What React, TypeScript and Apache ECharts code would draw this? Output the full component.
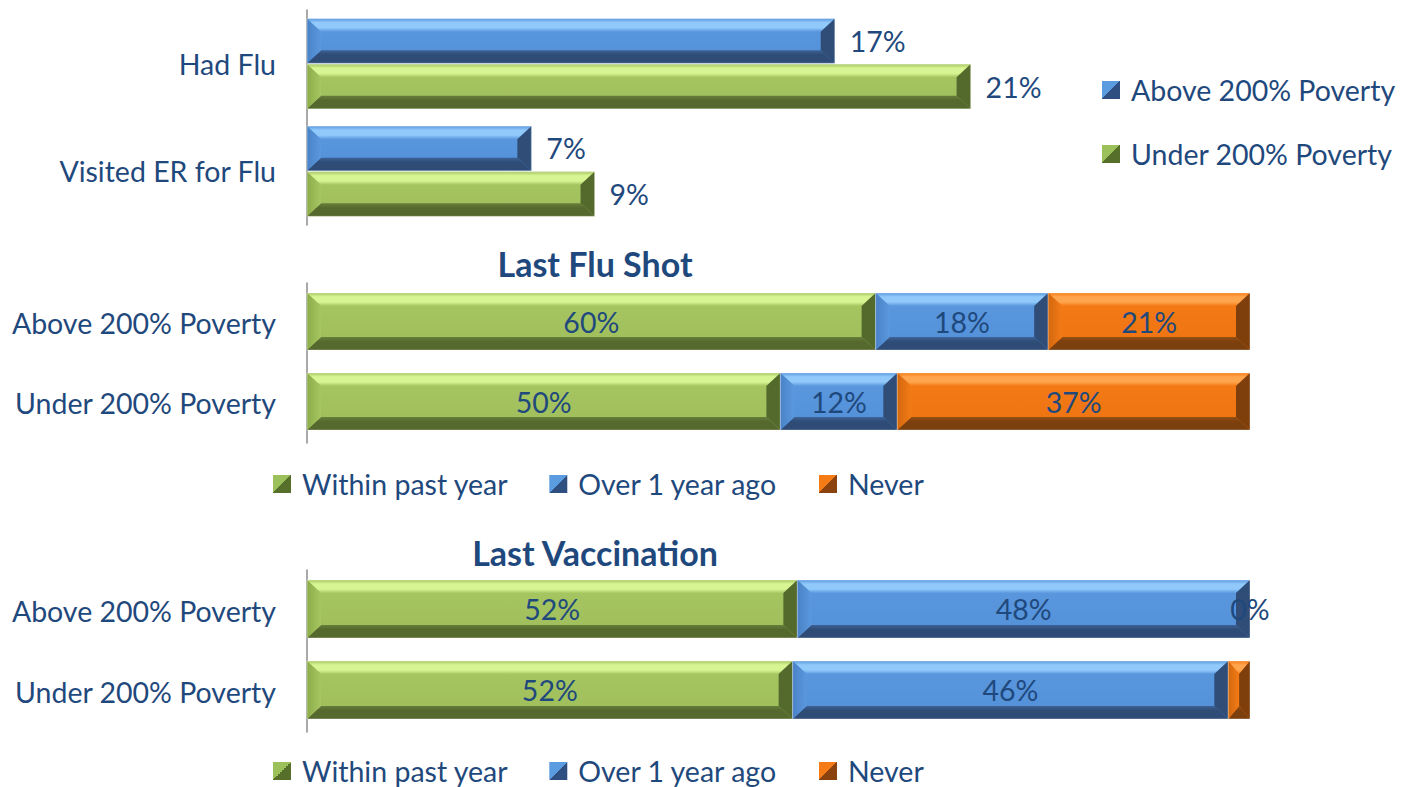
import React, { useEffect, useRef } from "react";
import * as echarts from "echarts";

// ---------- data ----------
const fluCategories = ["Had Flu", "Visited ER for Flu"];
const fluSeriesNames = ["Above 200% Poverty", "Under 200% Poverty"];
const fluAbove = [16.7, 7.1];
const fluUnder = [21.0, 9.1];

const groupCategories = ["Above 200% Poverty", "Under 200% Poverty"];
const stackSeriesNames = ["Within past year", "Over 1 year ago", "Never"];

const shotWithin = [60.3, 50.2];
const shotOver = [18.3, 12.4];
const shotNever = [21.4, 37.4];

const vaccWithin = [52.0, 51.5];
const vaccOver = [48.0, 46.2];
const vaccNever = [0.0, 2.3];
const vaccNeverLabelShown = [true, false];

const panelTitles = ["Last Flu Shot", "Last Vaccination"];

// ---------- styles ----------
const TEXT = "#1F497D";
const FONT = "Lato, 'Noto Sans', sans-serif";
const FS = 28.5;

type Pal = { face: string; faceDark: string; light: string; left: string; right: string; bottom: string; bottomLight: string; lg: string; dk: string };
const BLUE: Pal = { face: "#5B98DE", faceDark: "#5290D8", light: "#90C9FA", left: "#4A82C6", right: "#2F4D77", bottom: "#2E4C76", bottomLight: "#3D6296", lg: "#5B9BE0", dk: "#2E4F80" };
const GREEN: Pal = { face: "#A7C763", faceDark: "#9FBE5B", light: "#D8F594", left: "#8CAC4B", right: "#54692C", bottom: "#55692E", bottomLight: "#667D3A", lg: "#9CC05A", dk: "#56702C" };
const ORANGE: Pal = { face: "#F47B16", faceDark: "#EE7312", light: "#FFA54E", left: "#D2680F", right: "#7E3F0C", bottom: "#7C3F0E", bottomLight: "#955012", lg: "#F47B16", dk: "#8A430E" };
const STACK_PALS = [GREEN, BLUE, ORANGE];
const FLU_PALS = [BLUE, GREEN];

function bevelBar(x0: number, y0: number, x1: number, y1: number, pal: Pal): any[] {
  const w = x1 - x0;
  const h = y1 - y0;
  const out: any[] = [];
  if (w <= 0.01) return out;
  const bx = Math.min(14, w / 2);
  const by = Math.min(13, h / 2);
  out.push({
    type: "rect",
    shape: { x: x0, y: y0, width: w, height: h },
    style: {
      fill: new echarts.graphic.LinearGradient(0, 0, 0, 1, [
        { offset: 0, color: pal.face },
        { offset: 1, color: pal.faceDark },
      ]),
    },
  });
  out.push({
    type: "polygon",
    shape: { points: [[x0, y0], [x1, y0], [x1 - bx, y0 + by], [x0 + bx, y0 + by]] },
    style: {
      fill: new echarts.graphic.LinearGradient(0, 0, 0, 1, [
        { offset: 0, color: pal.face },
        { offset: 0.3, color: pal.light },
        { offset: 0.7, color: pal.light },
        { offset: 1, color: pal.face },
      ]),
    },
  });
  out.push({
    type: "polygon",
    shape: { points: [[x0, y1], [x0 + bx, y1 - by], [x1 - bx, y1 - by], [x1, y1]] },
    style: {
      fill: new echarts.graphic.LinearGradient(0, 0, 0, 1, [
        { offset: 0, color: pal.bottomLight },
        { offset: 0.35, color: pal.bottom },
        { offset: 1, color: pal.bottom },
      ]),
    },
  });
  out.push({
    type: "polygon",
    shape: { points: [[x0, y0], [x0 + bx, y0 + by], [x0 + bx, y1 - by], [x0, y1]] },
    style: {
      fill: new echarts.graphic.LinearGradient(0, 0, 1, 0, [
        { offset: 0, color: pal.left },
        { offset: 1, color: pal.face },
      ]),
    },
  });
  out.push({
    type: "polygon",
    shape: { points: [[x1, y0], [x1, y1], [x1 - bx, y1 - by], [x1 - bx, y0 + by]] },
    style: { fill: pal.right },
  });
  out.push({
    type: "rect",
    shape: { x: x0, y: y0, width: w, height: h },
    style: { fill: "none", stroke: "rgba(255,255,255,0.35)", lineWidth: 1 },
  });
  return out;
}

function legendIcon(pal: Pal) {
  return new echarts.graphic.LinearGradient(0, 0, 1, 1, [
    { offset: 0, color: pal.lg },
    { offset: 0.5, color: pal.lg },
    { offset: 0.5, color: pal.dk },
    { offset: 1, color: pal.dk },
  ]);
}

function labelText(x: number, y: number, text: string, align: string) {
  return {
    type: "text",
    x,
    y,
    style: { text, fill: TEXT, fontSize: FS, fontFamily: FONT, align, verticalAlign: "middle" },
  };
}

function fluSeries(idx: number, values: number[]) {
  const pal = FLU_PALS[idx];
  return {
    type: "custom",
    name: fluSeriesNames[idx],
    xAxisIndex: 0,
    yAxisIndex: 0,
    clip: false,
    itemStyle: { color: pal.face },
    encode: { x: 0, y: 1 },
    data: values.map((v, k) => [v, k]),
    renderItem: (_params: any, api: any) => {
      const v = api.value(0);
      const c = api.value(1);
      const p0 = api.coord([0, c]);
      const p1 = api.coord([v, c]);
      const band = api.size([0, 1])[1];
      const h = band * 0.415;
      const y0 = idx === 0 ? p0[1] - h - 0.5 : p0[1] + 0.5;
      const children = bevelBar(p0[0], y0, p1[0], y0 + h, pal);
      children.push(labelText(p1[0] + 15, y0 + h / 2, Math.round(v) + "%", "left"));
      return { type: "group", children };
    },
  };
}

function stackSeries(gridIdx: number, idx: number, parts: number[][], shown?: boolean[]) {
  const pal = STACK_PALS[idx];
  const data = parts[idx].map((v, k) => {
    let start = 0;
    for (let j = 0; j < idx; j++) start += parts[j][k];
    return [start, start + v, k, v, shown ? (shown[k] ? 1 : 0) : 1];
  });
  return {
    type: "custom",
    name: stackSeriesNames[idx],
    xAxisIndex: gridIdx,
    yAxisIndex: gridIdx,
    clip: false,
    itemStyle: { color: pal.face },
    encode: { x: [0, 1], y: 2 },
    data,
    renderItem: (_params: any, api: any) => {
      const s = api.value(0);
      const e = api.value(1);
      const c = api.value(2);
      const v = api.value(3);
      const show = api.value(4);
      const p0 = api.coord([s, c]);
      const p1 = api.coord([e, c]);
      const band = api.size([0, 1])[1];
      const h = band * 0.715;
      const y0 = p0[1] - h / 2 - 1.5;
      const children = bevelBar(p0[0], y0, p1[0], y0 + h, pal);
      if (show) children.push(labelText((p0[0] + p1[0]) / 2, y0 + h / 2, Math.round(v) + "%", "center"));
      return { type: "group", children };
    },
  };
}

function yAxisCfg(gridIndex: number, data: string[]) {
  return {
    type: "category",
    gridIndex,
    data,
    inverse: true,
    axisLine: { lineStyle: { color: "#8C8C8C", width: 1.5 } },
    axisTick: { length: 9, lineStyle: { color: "#8C8C8C", width: 1.5 } },
    axisLabel: { margin: 31, fontSize: FS, fontFamily: FONT, color: TEXT },
    splitLine: { show: false },
  };
}

function xAxisCfg(gridIndex: number, max: number) {
  return { type: "value", gridIndex, min: 0, max, show: false, splitLine: { show: false } };
}

const legendText = { fontSize: FS, fontFamily: FONT, color: TEXT, lineHeight: 30, padding: [0, 0, 0, 6] };

export default function App() {
  const ref = useRef<HTMLDivElement>(null);
  useEffect(() => {
    if (!ref.current) return;
    const chart = echarts.init(ref.current, undefined, { renderer: "svg" });
    const shotParts = [shotWithin, shotOver, shotNever];
    const vaccParts = [vaccWithin, vaccOver, vaccNever];
    const titleStyle = { fontSize: 34, fontWeight: "bold", fontFamily: FONT, color: TEXT };
    const option: any = {
      animation: false,
      backgroundColor: "#FFFFFF",
      title: [
        { text: panelTitles[0], left: 595, top: 246, textAlign: "center", padding: 0, textStyle: titleStyle },
        { text: panelTitles[1], left: 595, top: 535, textAlign: "center", padding: 0, textStyle: titleStyle },
      ],
      legend: [
        {
          orient: "vertical",
          left: 1102,
          top: 75,
          padding: 0,
          itemWidth: 18,
          itemHeight: 18,
          itemGap: 34,
          selectedMode: false,
          textStyle: legendText,
          data: fluSeriesNames.map((n, i) => ({ name: n, icon: "rect", itemStyle: { color: legendIcon(FLU_PALS[i]) } })),
        },
        {
          left: 273,
          top: 469,
          padding: 0,
          itemWidth: 18,
          itemHeight: 18,
          itemGap: 41,
          selectedMode: false,
          textStyle: legendText,
          data: stackSeriesNames.map((n, i) => ({ name: n, icon: "rect", itemStyle: { color: legendIcon(STACK_PALS[i]) } })),
        },
        {
          left: 273,
          top: 756,
          padding: 0,
          itemWidth: 18,
          itemHeight: 18,
          itemGap: 41,
          selectedMode: false,
          textStyle: legendText,
          data: stackSeriesNames.map((n, i) => ({ name: n, icon: "rect", itemStyle: { color: legendIcon(STACK_PALS[i]) } })),
        },
      ],
      grid: [
        { left: 307, top: 10, width: 790, height: 215 },
        { left: 307, top: 283, width: 943, height: 160 },
        { left: 307, top: 570, width: 943, height: 162 },
      ],
      xAxis: [xAxisCfg(0, 25), xAxisCfg(1, 100), xAxisCfg(2, 100)],
      yAxis: [yAxisCfg(0, fluCategories), yAxisCfg(1, groupCategories), yAxisCfg(2, groupCategories)],
      series: [
        fluSeries(0, fluAbove),
        fluSeries(1, fluUnder),
        stackSeries(1, 0, shotParts),
        stackSeries(1, 1, shotParts),
        stackSeries(1, 2, shotParts),
        stackSeries(2, 0, vaccParts),
        stackSeries(2, 1, vaccParts),
        stackSeries(2, 2, vaccParts, vaccNeverLabelShown),
      ],
    };
    chart.setOption(option);
    return () => chart.dispose();
  }, []);
  return <div ref={ref} style={{ position: "fixed", left: 0, top: 0, width: 1414, height: 787, background: "#fff" }} />;
}
